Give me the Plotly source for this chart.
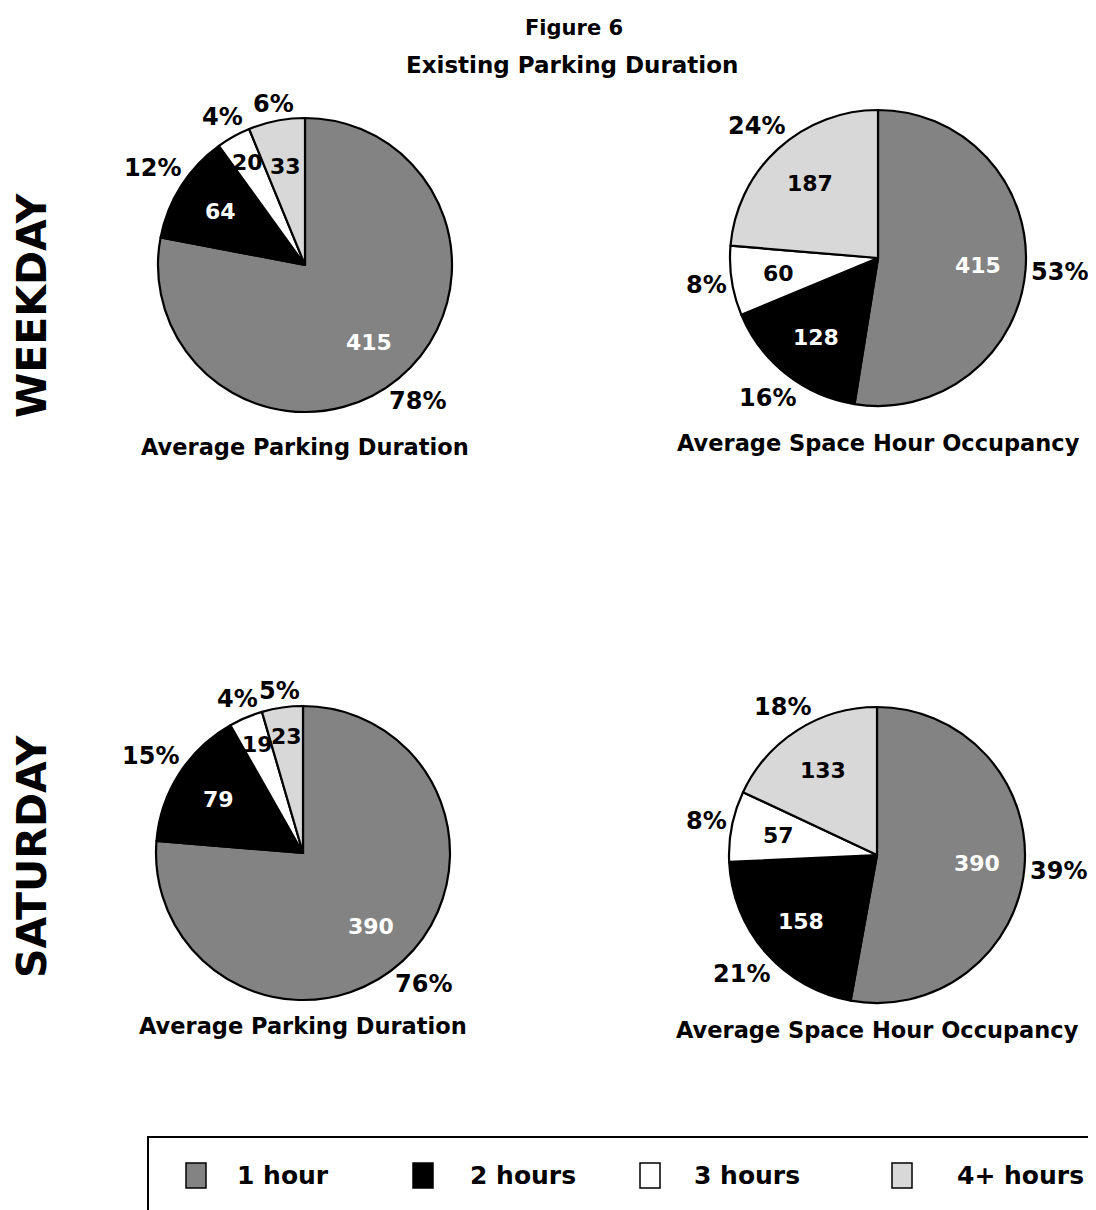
import math
import plotly.graph_objects as go

# ---------------- data ----------------
categories = ["1 hour", "2 hours", "3 hours", "4+ hours"]

weekday_duration = [415, 64, 20, 33]
weekday_occupancy = [415, 128, 60, 187]
saturday_duration = [390, 79, 19, 23]
saturday_occupancy = [390, 158, 57, 133]

# percentage labels exactly as printed on the figure
weekday_duration_pct = ["78%", "12%", "4%", "6%"]
weekday_occupancy_pct = ["53%", "16%", "8%", "24%"]
saturday_duration_pct = ["76%", "15%", "4%", "5%"]
saturday_occupancy_pct = ["39%", "21%", "8%", "18%"]

row_labels = ["WEEKDAY", "SATURDAY"]
chart_captions = ["Average Parking Duration", "Average Space Hour Occupancy"]
title_lines = ["Figure 6", "Existing Parking Duration"]

# ---------------- style ----------------
PAGE_W, PAGE_H = 1096, 1210
OFF = 8  # default body margin of the html page
W, H = PAGE_W - OFF, PAGE_H - OFF
slice_colors = ["#838383", "#000000", "#ffffff", "#d8d8d8"]
inside_text_colors = ["#ffffff", "#ffffff", "#000000", "#000000"]
FONT = "DejaVu Sans"

# pie layout in page pixels: (center x, center y, radius)
pies = [
    (weekday_duration, weekday_duration_pct, (305, 265, 147)),
    (weekday_occupancy, weekday_occupancy_pct, (878, 258, 148)),
    (saturday_duration, saturday_duration_pct, (303, 853, 147)),
    (saturday_occupancy, saturday_occupancy_pct, (877, 855, 148)),
]
caption_y = [447, 443, 1026, 1030]


def px(x):
    return (x - OFF) / W


def py(y):
    return 1 - (y - OFF) / H


fig = go.Figure()
annotations = []

for i, (vals, pcts, (cx, cy, r)) in enumerate(pies):
    fig.add_trace(go.Pie(
        labels=categories,
        values=vals,
        sort=False,
        direction="clockwise",
        rotation=0,
        marker=dict(colors=slice_colors, line=dict(color="#000000", width=2.2)),
        textinfo="none",
        hoverinfo="label+value+percent",
        showlegend=False,
        domain=dict(x=[px(cx - r), px(cx + r)], y=[py(cy + r), py(cy - r)]),
    ))
    total = sum(vals)
    cum = 0
    for j, v in enumerate(vals):
        frac = v / total
        mid = (cum + v / 2) / total * 2 * math.pi
        cum += v
        ux, uy = math.sin(mid), -math.cos(mid)
        # value label inside the slice (very narrow slices push the label outward)
        ri = (0.8 if frac < 0.05 else 0.68) * r
        annotations.append(dict(
            x=px(cx + ri * ux), y=py(cy + ri * uy), xref="paper", yref="paper",
            text=str(v), showarrow=False,
            font=dict(family=FONT, size=22, color=inside_text_colors[j], weight="bold"),
            xanchor="center", yanchor="middle"))
        # percentage label outside the slice
        tw = len(pcts[j]) * 19
        th = 18
        support = abs(ux) * tw / 2 + abs(uy) * th / 2
        ro = r + 5 + support
        annotations.append(dict(
            x=px(cx + ro * ux), y=py(cy + ro * uy), xref="paper", yref="paper",
            text=pcts[j], showarrow=False,
            font=dict(family=FONT, size=24, color="#000000", weight="bold"),
            xanchor="center", yanchor="middle"))
    annotations.append(dict(
        x=px(cx), y=py(caption_y[i]), xref="paper", yref="paper",
        text=chart_captions[i % 2], showarrow=False,
        font=dict(family=FONT, size=22.5, color="#000000", weight="bold"),
        xanchor="center", yanchor="middle"))

# titles
annotations.append(dict(x=px(574), y=py(28), xref="paper", yref="paper", text=title_lines[0],
                        showarrow=False, xanchor="center", yanchor="middle",
                        font=dict(family=FONT, size=21, color="#000000", weight="bold")))
annotations.append(dict(x=px(572), y=py(65), xref="paper", yref="paper", text=title_lines[1],
                        showarrow=False, xanchor="center", yanchor="middle",
                        font=dict(family=FONT, size=23, color="#000000", weight="bold")))

# row labels
for lbl, yc in zip(row_labels, [305, 856]):
    annotations.append(dict(x=px(32), y=py(yc), xref="paper", yref="paper", text=lbl,
                            textangle=-90, showarrow=False, xanchor="center", yanchor="middle",
                            font=dict(family=FONT, size=41, color="#000000", weight="bold")))

# legend (drawn manually to match the boxed legend of the original)
shapes = [dict(type="rect", xref="paper", yref="paper",
               x0=px(148), x1=px(1110), y0=py(1225), y1=py(1137),
               line=dict(color="#000000", width=2), fillcolor="rgba(0,0,0,0)")]
swatch_left = [186, 413, 640, 892]
text_left = [235, 468, 692, 955]
for k, cat in enumerate(categories):
    shapes.append(dict(type="rect", xref="paper", yref="paper",
                       x0=px(swatch_left[k]), x1=px(swatch_left[k] + 20),
                       y0=py(1188), y1=py(1163),
                       line=dict(color="#000000", width=1.5), fillcolor=slice_colors[k]))
    annotations.append(dict(x=px(text_left[k]), y=py(1175), xref="paper", yref="paper",
                            text=cat, showarrow=False, xanchor="left", yanchor="middle",
                            font=dict(family=FONT, size=25, color="#000000", weight="bold")))

fig.update_layout(
    width=W, height=H,
    margin=dict(l=0, r=0, t=0, b=0),
    paper_bgcolor="#ffffff",
    plot_bgcolor="#ffffff",
    annotations=annotations,
    shapes=shapes,
    showlegend=False,
)

fig.write_html("out.html")
